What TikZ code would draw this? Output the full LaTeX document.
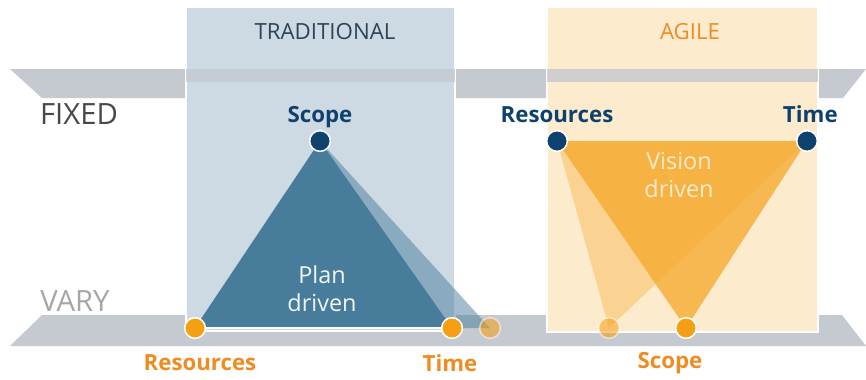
\documentclass[tikz,border=0pt]{standalone}
\usepackage{fontspec}
\setmainfont{Open Sans}
\usepackage{xcolor}
\usetikzlibrary{positioning}

\definecolor{bandgray}{RGB}{197,201,208}
\definecolor{tradpanel}{RGB}{205,218,228}
\definecolor{agilepanel}{RGB}{253,235,205}
\definecolor{planblue}{RGB}{72,124,155}
\definecolor{darkblue}{RGB}{15,65,110}
\definecolor{dotorange}{RGB}{245,160,20}
\definecolor{visionorange}{RGB}{245,168,40}
\definecolor{labelorange}{RGB}{238,140,35}
\definecolor{headslate}{RGB}{45,68,88}

\tikzset{
  dot/.style={circle, draw=white, line width=1.3pt, inner sep=0pt, minimum size=0.62cm},
  fixeddot/.style={dot, fill=darkblue},
  varydot/.style={dot, fill=dotorange},
  ghostdot/.style={dot, fill=dotorange, opacity=0.55},
  toplabel/.style={font=\fontsize{19}{19}\selectfont\bfseries, text=darkblue, text depth=0.17cm},
  bottomlabel/.style={font=\fontsize{19}{19}\selectfont\bfseries, text=labelorange},
  rowlabel/.style={font=\fontsize{25}{25}\selectfont},
  headlabel/.style={font=\fontsize{19}{19}\selectfont},
  inlabel/.style={font=\fontsize{20}{24}\selectfont, align=center}
}

\begin{document}
\begin{tikzpicture}[x=0.03cm, y=-0.03cm]
\useasboundingbox (0,0) rectangle (866,379);

\fill[bandgray] (10,69) -- (866,69) -- (843,98) -- (42,98) -- cycle;
\fill[bandgray] (42,315) -- (842,315) -- (866,346) -- (10,346) -- cycle;

\filldraw[fill=tradpanel, draw=white, line width=1pt] (186,7) rectangle (455,331);
\filldraw[fill=agilepanel, draw=white, line width=1pt] (547,7) rectangle (818,332);
\fill[bandgray, opacity=0.8] (186,69) rectangle (455,82);
\fill[bandgray, opacity=0.8] (547,69) rectangle (818,82);

\node[headlabel, text=headslate] (trad) at (325,32) {TRADITIONAL};
\node[headlabel, text=labelorange] (agile) at (690,32) {AGILE};
\node[rowlabel, text=black!72] (fixed) at (79,114) {FIXED};
\node[rowlabel, text=black!35] (vary) at (75,301) {VARY};

\coordinate (tscope) at (320,141);
\coordinate (tres) at (195,328);
\coordinate (ttime) at (452,328);
\coordinate (tghost) at (490,328);
\fill[planblue, opacity=0.5] (tscope) -- (tghost) -- (tres) -- cycle;
\fill[planblue] (tscope) -- (ttime) -- (tres) -- cycle;
\draw[white, line width=1pt] (tres) -- (ttime);
\node[inlabel, text=white!92!planblue] (plan) at (322,289) {Plan\\driven};

\coordinate (ares) at (557,141);
\coordinate (atime) at (807,141);
\coordinate (ascope) at (686,328);
\coordinate (aghost) at (609,328);
\fill[visionorange, opacity=0.35] (ares) -- (atime) -- (aghost) -- cycle;
\fill[visionorange, opacity=0.75] (ares) -- (atime) -- (ascope) -- cycle;
\node[inlabel, text=agilepanel] (vision) at (679,175) {Vision\\driven};

\node[fixeddot] (tscopedot) at (tscope) {};
\node[varydot] (tresdot) at (tres) {};
\node[varydot] (ttimedot) at (ttime) {};
\node[ghostdot] (tghostdot) at (tghost) {};
\node[fixeddot] (aresdot) at (ares) {};
\node[fixeddot] (atimedot) at (atime) {};
\node[varydot] (ascopedot) at (ascope) {};
\node[ghostdot] (aghostdot) at (aghost) {};

\node[toplabel, above=-0.08cm of tscopedot] (tscopelab) {Scope};
\node[toplabel, above=-0.08cm of aresdot] (areslab) {Resources};
\node[toplabel, above=-0.08cm of atimedot, xshift=0.1cm] (atimelab) {Time};
\node[bottomlabel] (treslab) at (200,363) {Resources};
\node[bottomlabel] (ttimelab) at (450,363) {Time};
\node[bottomlabel] (ascopelab) at (670,363) {Scope};

\end{tikzpicture}
\end{document}
